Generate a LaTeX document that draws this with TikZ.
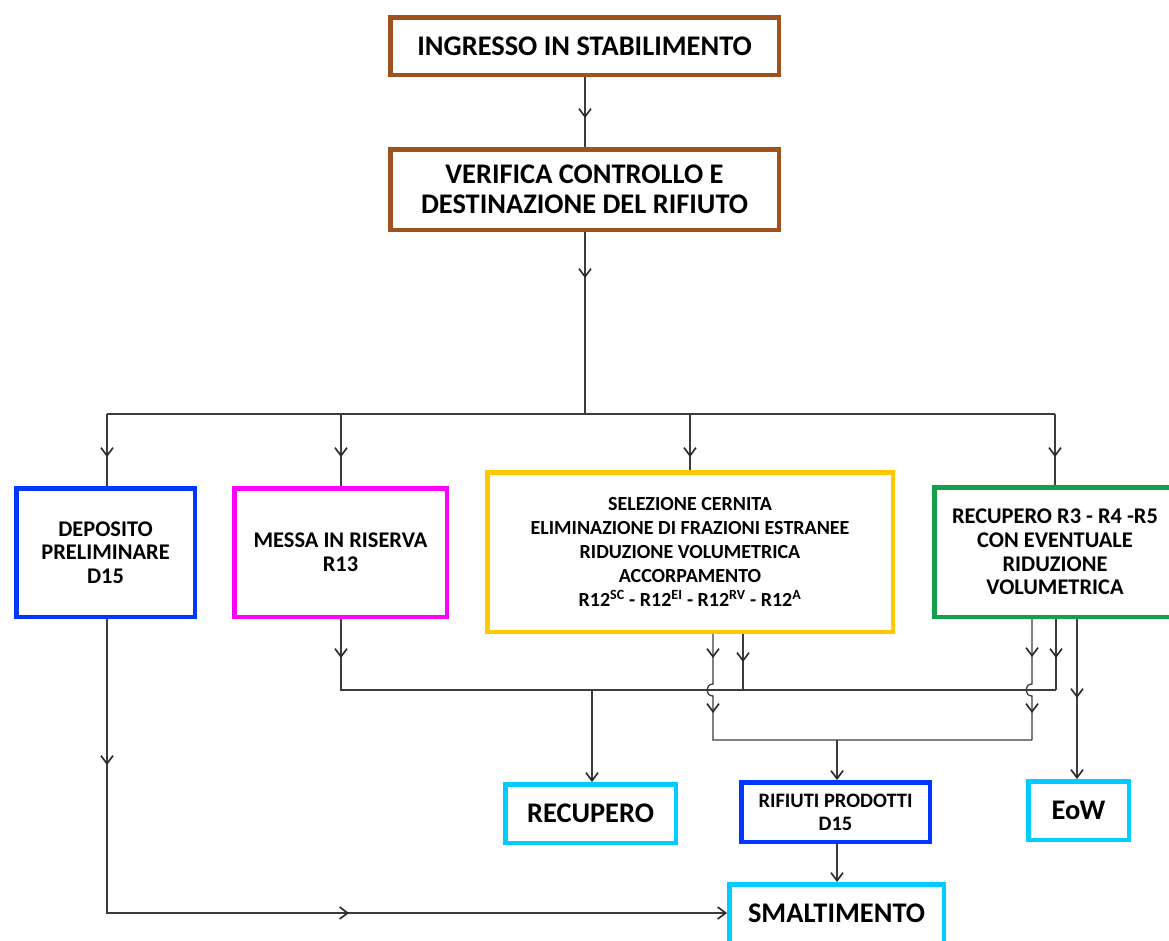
\documentclass[tikz,border=0pt]{standalone}
\usepackage{fontspec}
\setmainfont{Carlito}
\usetikzlibrary{arrows.meta,decorations.markings}
\definecolor{brownc}{RGB}{160,82,30}
\definecolor{bluec}{RGB}{0,56,255}
\definecolor{magc}{RGB}{255,0,255}
\definecolor{yelc}{RGB}{255,200,0}
\definecolor{greenc}{RGB}{20,160,75}
\definecolor{cyanc}{RGB}{0,204,255}
\definecolor{linec}{RGB}{60,60,60}
\tikzset{
  box/.style={draw=#1,line width=4.5pt,align=center,inner sep=0pt,text=black},
  conn/.style={draw=linec,line width=1.3pt},
  barb/.tip={Straight Barb[length=8pt,width=12pt,line width=1.6pt,color=black!85]},
  endarr/.style={-barb},
  marr/.style={postaction={decorate,decoration={markings,mark=at position #1 with {\arrow{barb}}}}},
  marrr/.style 2 args={postaction={decorate,decoration={markings,mark=at position #1 with {\arrow{barb}},mark=at position #2 with {\arrow{barb}}}}},
  big/.style={font=\fontsize{28.4}{30}\selectfont\bfseries},
  mid/.style={font=\fontsize{22.4}{23.7}\selectfont\bfseries},
  small/.style={font=\fontsize{20}{24}\selectfont\bfseries},
}
\begin{document}
\begin{tikzpicture}[x=1pt,y=-1pt]
\useasboundingbox (0,0) rectangle (1169,940);
\clip (0,0) rectangle (1169,940);
\fill[white] (0,0) rectangle (1169,940);
% boxes
\node[box=brownc,big,minimum width=388.5pt,minimum height=57.5pt] (ing) at (584.5,46) {INGRESSO IN STABILIMENTO};
\node[box=brownc,big,minimum width=388.5pt,minimum height=80.5pt] (ver) at (584.5,189.5) {VERIFICA CONTROLLO E\\DESTINAZIONE DEL RIFIUTO};
\node[box=bluec,mid,minimum width=178.5pt,minimum height=128.5pt] (dep) at (105.5,552.5) {DEPOSITO\\PRELIMINARE\\D15};
\node[box=magc,mid,minimum width=212.5pt,minimum height=128.5pt] (mes) at (340.5,552.5) {MESSA IN RISERVA\\R13};
\node[box=yelc,small,minimum width=405.5pt,minimum height=159.5pt] (sel) at (690,552) {SELEZIONE CERNITA\\ELIMINAZIONE DI FRAZIONI ESTRANEE\\RIDUZIONE VOLUMETRICA\\ACCORPAMENTO\\R12\textsuperscript{SC} - R12\textsuperscript{EI} - R12\textsuperscript{RV} - R12\textsuperscript{A}};
\node[box=greenc,mid,minimum width=241.5pt,minimum height=129.5pt] (rec3) at (1055,552) {RECUPERO R3 - R4 -R5\\CON EVENTUALE\\RIDUZIONE\\VOLUMETRICA};
\node[box=cyanc,big,minimum width=170.5pt,minimum height=58.5pt] (recb) at (590.5,813.5) {RECUPERO};
\node[box=bluec,font=\fontsize{20.5}{23}\selectfont\bfseries,minimum width=188.5pt,minimum height=59.5pt] (rif) at (835.5,812) {RIFIUTI PRODOTTI\\D15};
\node[box=cyanc,big,minimum width=100.5pt,minimum height=58.5pt] (eow) at (1078.5,810.5) {EoW};
\node[box=cyanc,big,minimum width=214.5pt,minimum height=58.5pt] (sma) at (836.5,913.5) {SMALTIMENTO};
% coordinates
\coordinate (hub) at (585,414);
\coordinate (d1) at (107,414);
\coordinate (d2) at (341,414);
\coordinate (d3) at (690,414);
\coordinate (d4) at (1055,414);
\coordinate (m1) at (341,690);
\coordinate (m2) at (1056,690);
\coordinate (y2) at (743,690);
\coordinate (b1m) at (592,690);
\coordinate (b2l) at (713,740);
\coordinate (b2r) at (1032,740);
\coordinate (b2m) at (837,740);
\coordinate (ex) at (1077,0);
\coordinate (corner) at (107,913);
% connectors
\draw[conn,marr=41pt] (ing.south -| hub) -- (hub |- ver.north);
\draw[conn,marr=46pt] (ver.south -| hub) -- (hub);
\draw[conn] (d1) -- (d4);
\draw[conn,marr=43pt] (d1) -- (d1 |- dep.north);
\draw[conn,marr=43pt] (d2) -- (d2 |- mes.north);
\draw[conn,marr=43pt] (d3) -- (d3 |- sel.north);
\draw[conn,marr=43pt] (d4) -- (d4 |- rec3.north);
\draw[conn,marr=39pt] (m1 |- mes.south) -- (m1) -- (m2);
\draw[conn,marr=39pt] (m2 |- rec3.south) -- (m2);
\draw[conn,marr=28pt] (y2 |- sel.south) -- (y2);
\draw[conn,marrr={24pt}{86pt}] (b2l |- sel.south) -- ++(0,50) .. controls +(-8,0) and +(-8,0) .. ++(0,12) -- (b2l) -- (b2r);
\draw[conn,marrr={38pt}{101pt}] (b2r |- rec3.south) -- ++(0,65) .. controls +(-8,0) and +(-8,0) .. ++(0,12) -- (b2r);
\draw[conn,endarr] (b1m) -- (b1m |- recb.north);
\draw[conn,endarr] (b2m) -- (b2m |- rif.north);
\draw[conn,endarr,marr=79pt] (ex |- rec3.south) -- (ex |- eow.north);
\draw[conn,endarr,marrr={146pt}{536pt}] (corner |- dep.south) -- (corner) -- (corner -| sma.west);
\draw[conn,endarr] (rif.south -| b2m) -- (b2m |- sma.north);
\end{tikzpicture}
\end{document}
